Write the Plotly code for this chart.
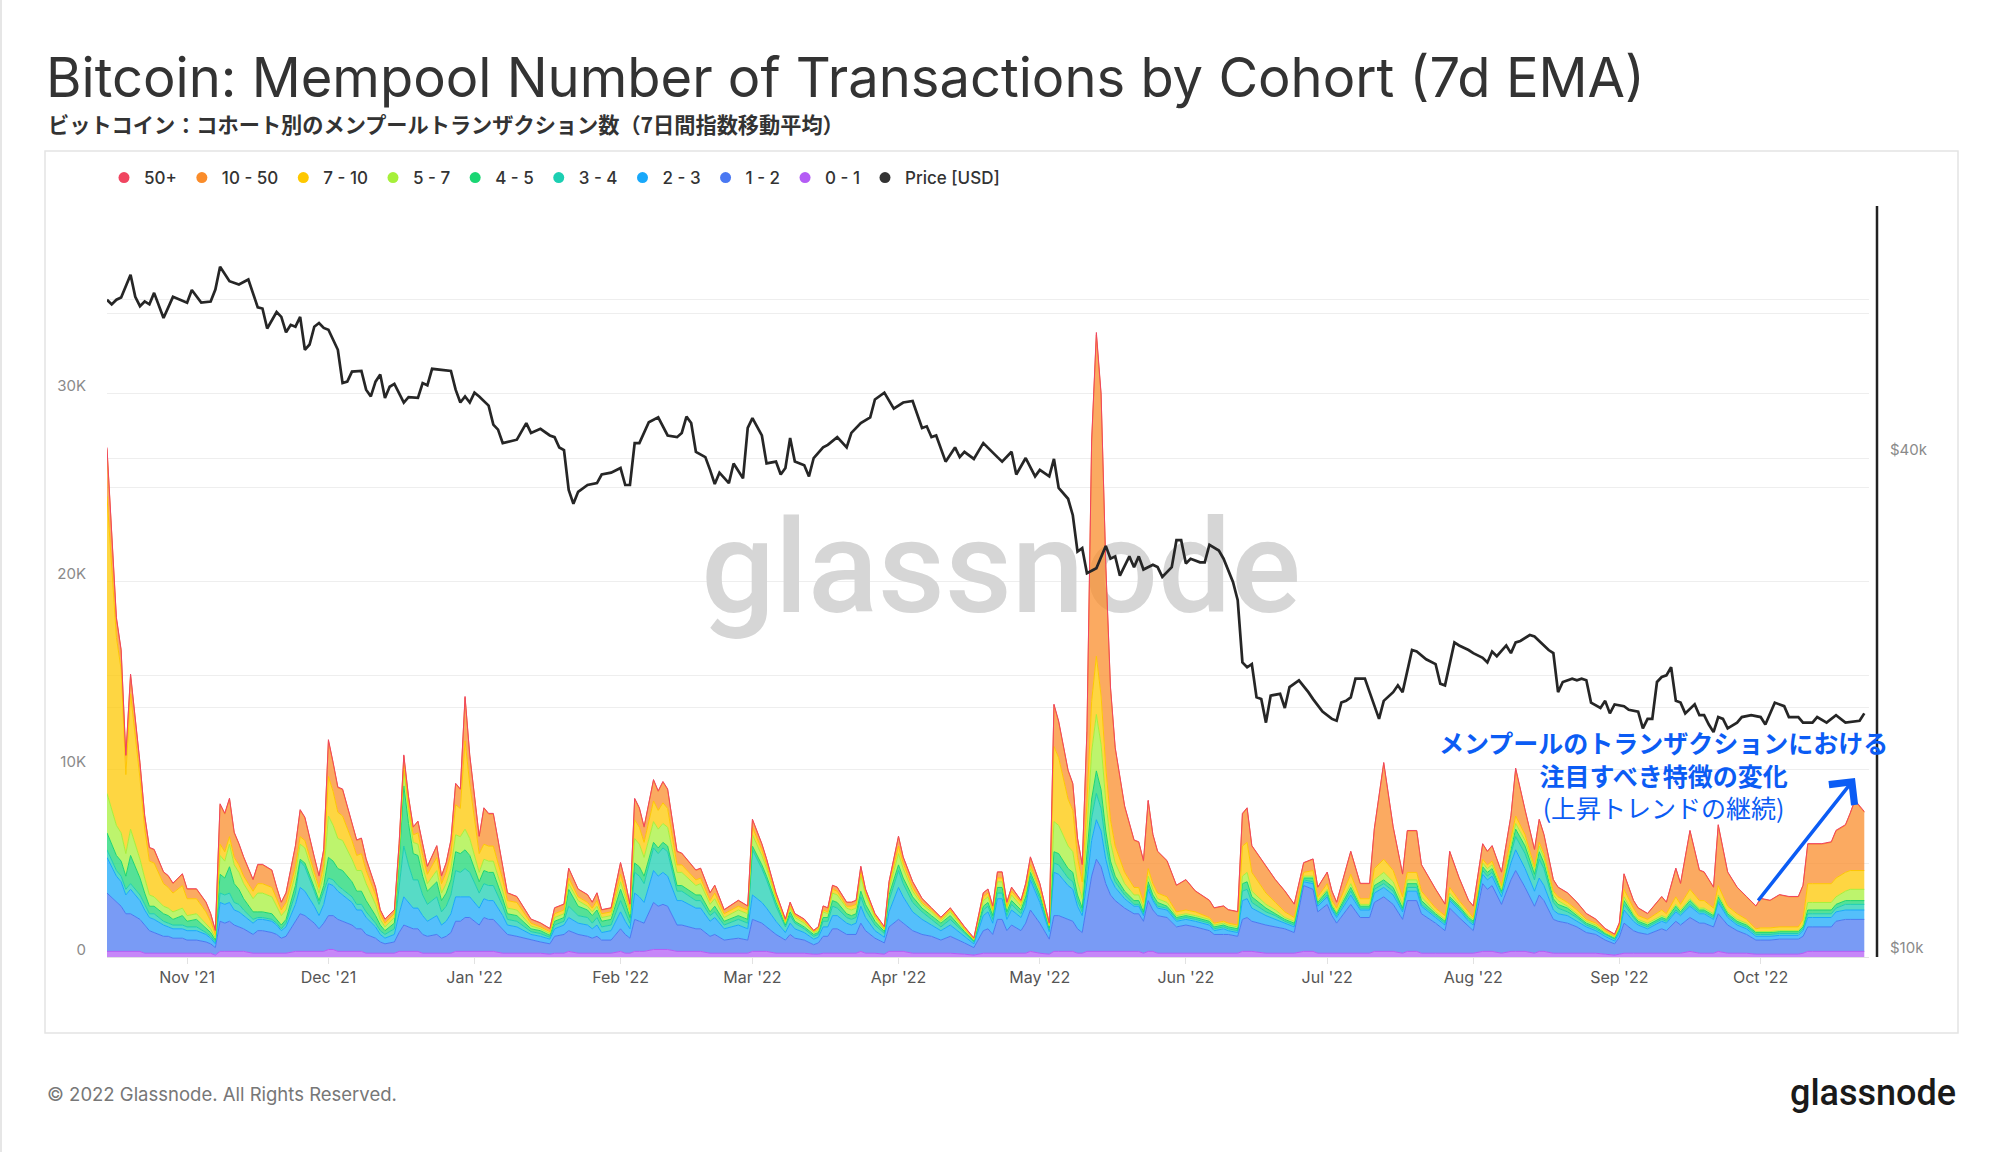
import pandas as pd
import plotly.graph_objects as go

# ---------------- canvas geometry ----------------
W, H = 2000, 1152
ML, MR, MT, MB = 107, 131, 205, 195
PW = W - ML - MR
PH = H - MT - MB


def px(x):
    return (x - ML) / PW


def py(y):
    return 1 - (y - MT) / PH


BASE = pd.Timestamp("2021-10-15")
X_END = pd.Timestamp("2022-10-24")

# ---------------- data (values in thousands) ----------------
days = [0, 2, 3, 4, 5, 7, 8, 9, 10, 12,
        13, 14, 16, 17, 19, 21, 22, 23, 24, 25,
        26, 27, 28, 29, 31, 32, 33, 35, 36, 37,
        38, 40, 41, 42, 44, 45, 46, 47, 48, 49,
        50, 52, 53, 54, 55, 57, 58, 59, 61, 62,
        63, 64, 65, 66, 67, 68, 70, 71, 72, 73,
        74, 75, 76, 77, 79, 80, 81, 82, 84, 85,
        87, 90, 92, 94, 95, 97, 98, 100, 102, 103,
        104, 105, 107, 109, 110, 111, 112, 113, 114, 116,
        117, 118, 119, 121, 122, 125, 126, 128, 129, 131,
        134, 136, 137, 139, 140, 142, 144, 145, 146, 148,
        150, 151, 152, 153, 154, 155, 157, 158, 159, 160,
        161, 163, 165, 166, 168, 169, 171, 173, 175, 177,
        179, 182, 184, 186, 187, 188, 189, 190, 191, 192,
        194, 195, 196, 198, 200, 201, 202, 204, 205, 206,
        207, 208, 209, 210, 211, 212, 213, 214, 216, 218,
        219, 220, 221, 222, 223, 225, 227, 229, 231, 234,
        235, 237, 238, 240, 241, 242, 243, 246, 248, 250,
        252, 254, 256, 257, 259, 260, 261, 264, 266, 268,
        269, 271, 273, 275, 276, 278, 279, 282, 284, 285,
        287, 289, 290, 292, 293, 294, 296, 298, 299, 301,
        303, 304, 305, 307, 308, 310, 312, 314, 316, 318,
        320, 321, 322, 324, 325, 327, 330, 331, 333, 334,
        336, 338, 339, 341, 342, 344, 346, 348, 350, 351,
        353, 355, 357, 359, 360, 361, 362, 364, 366, 367,
        369, 370, 371, 373]

c_0_1 = [.3, .3, .3, .3, .3, .3, .2, .2, .2, .2,
         .2, .2, .2, .2, .2, .2, .2, .1, .3, .3,
         .3, .3, .3, .3, .2, .2, .2, .2, .2, .2,
         .2, .3, .3, .3, .3, .3, .3, .4, .4, .3,
         .3, .3, .3, .3, .2, .2, .2, .2, .2, .3,
         .3, .3, .3, .3, .2, .2, .2, .2, .2, .2,
         .3, .3, .3, .3, .3, .3, .3, .3, .2, .2,
         .2, .2, .2, .15, .2, .2, .3, .2, .2, .2,
         .2, .2, .2, .3, .2, .2, .3, .3, .3, .4,
         .4, .4, .4, .3, .3, .3, .3, .2, .2, .2,
         .2, .2, .3, .3, .3, .2, .2, .2, .2, .2,
         .15, .15, .2, .2, .2, .2, .2, .2, .2, .3,
         .2, .2, .15, .3, .3, .3, .2, .2, .2, .2,
         .2, .15, .1, .2, .2, .2, .2, .2, .2, .2,
         .2, .2, .3, .2, .15, .3, .3, .3, .3, .2,
         .2, .3, .3, .3, .3, .3, .3, .3, .3, .3,
         .3, .2, .3, .3, .2, .2, .2, .2, .2, .2,
         .2, .2, .2, .2, .3, .3, .3, .2, .2, .2,
         .2, .3, .3, .2, .2, .2, .2, .2, .2, .2,
         .3, .3, .3, .2, .3, .3, .2, .2, .2, .2,
         .2, .2, .2, .3, .3, .3, .2, .3, .3, .3,
         .2, .3, .3, .2, .2, .2, .2, .2, .2, .15,
         .1, .15, .2, .2, .2, .2, .2, .2, .2, .2,
         .3, .2, .2, .2, .3, .2, .2, .2, .15, .15,
         .15, .15, .15, .15, .2, .3, .3, .3, .3, .3,
         .3, .3, .3, .3]

c_1_2 = [3.1, 2.6, 2.4, 2.0, 2.0, 1.7, 1.5, 1.2, 1.1, .9,
         .9, .8, .8, .7, .7, .6, .5, .4, 1.6, 1.5,
         1.6, 1.4, 1.3, 1.2, 1.0, 1.2, 1.2, 1.1, 1.0, .8,
         .9, 1.6, 2.0, 1.9, 1.5, 1.2, 1.5, 1.8, 1.8, 1.7,
         1.6, 1.4, 1.2, 1.2, 1.0, .8, .6, .5, .6, 1.0,
         1.4, 1.3, 1.2, 1.2, 1.0, .9, 1.0, .8, .9, 1.1,
         1.6, 1.6, 1.8, 1.8, 1.4, 1.8, 1.7, 1.7, 1.3, 1.0,
         .9, .7, .6, .55, .9, 1.0, 1.1, 1.0, .9, .8,
         .9, .7, .7, 1.2, 1.0, .8, 1.7, 1.6, 1.5, 2.5,
         2.3, 2.4, 2.3, 1.4, 1.4, 1.2, 1.2, .9, 1.0, .7,
         .8, .7, 1.7, 1.5, 1.3, 1.0, .7, 1.0, .8, .7,
         .5, .6, .9, .9, 1.3, 1.3, 1.0, 1.0, 1.0, 1.5,
         1.2, .8, .6, 1.3, 1.7, 1.5, 1.2, 1.0, .9, .7,
         .9, .6, .4, 1.2, 1.3, 1.0, 1.8, 1.8, 1.2, 1.5,
         1.2, 1.6, 2.2, 1.6, .8, 1.9, 1.9, 1.7, 1.6, 1.3,
         1.1, 2.5, 4.0, 4.9, 4.5, 3.6, 3.0, 2.7, 2.3, 2.0,
         2.0, 1.7, 2.7, 2.2, 2.0, 1.9, 1.4, 1.5, 1.4, 1.2,
         1.0, 1.0, 1.0, .9, 1.7, 1.8, 1.6, 1.5, 1.4, 1.3,
         1.1, 3.5, 3.3, 2.2, 2.6, 2.0, 1.6, 2.6, 1.9, 1.9,
         2.6, 2.9, 2.5, 1.8, 2.7, 2.7, 2.1, 1.6, 1.2, 2.4,
         1.9, 1.4, 1.2, 3.6, 3.3, 3.5, 2.6, 3.8, 4.3, 3.4,
         2.5, 3.0, 2.7, 1.8, 1.7, 1.6, 1.4, 1.1, 1.0, .75,
         .6, .9, 1.6, 1.2, 1.1, 1.0, 1.3, 1.2, 1.7, 1.5,
         1.8, 1.6, 1.6, 1.4, 2.0, 1.5, 1.2, 1.0, .75, .75,
         .75, .8, .8, .8, .9, 1.3, 1.3, 1.3, 1.3, 1.6,
         1.7, 1.7, 1.7, 1.7]

c_2_3 = [1.9, 1.4, 1.3, 1.0, 1.3, 1.0, .8, .7, .7, .6,
         .5, .5, .5, .5, .5, .4, .3, .2, 1.0, 1.0,
         1.0, .8, .8, .7, .6, .6, .6, .6, .5, .4,
         .5, .9, 1.4, 1.3, .9, .7, 1.0, 1.7, 1.6, 1.5,
         1.4, 1.2, 1.0, 1.0, .9, .6, .4, .3, .4, 1.0,
         1.5, 1.3, 1.1, 1.1, 1.0, .8, 1.0, .7, .8, 1.0,
         1.3, 1.3, 1.1, 1.1, .9, 1.0, 1.0, 1.0, .7, .5,
         .5, .3, .3, .25, .4, .5, .7, .6, .6, .5,
         .6, .4, .5, .9, .7, .5, 1.4, 1.3, 1.1, 1.7,
         1.6, 1.7, 1.6, 1.3, 1.3, 1.1, 1.1, .8, .9, .6,
         .7, .6, 1.3, 1.1, 1.0, .7, .4, .6, .5, .4,
         .3, .3, .5, .5, .7, .7, .6, .5, .6, .9,
         .7, .4, .3, .8, 1.7, 1.4, 1.0, .8, .6, .5,
         .6, .35, .2, .8, .9, .6, 1.1, 1.1, .6, .8,
         .7, .9, 1.6, 1.1, .4, 2.3, 2.2, 1.8, 1.7, 1.2,
         .9, 1.2, 1.9, 2.1, 1.9, 1.3, .9, .7, .5, .4,
         .4, .3, .6, .5, .4, .4, .3, .3, .3, .3,
         .2, .3, .2, .2, 1.0, 1.0, .7, .5, .4, .3,
         .3, .2, .3, .3, .4, .3, .3, .5, .4, .4,
         .5, .5, .5, .4, .5, .5, .4, .3, .3, .4,
         .4, .3, .3, .5, .5, .5, .4, .9, 1.1, 1.0,
         .8, .9, .8, .5, .4, .4, .3, .3, .2, .2,
         .15, .25, .7, .5, .4, .3, .4, .4, .5, .5,
         .6, .5, .5, .4, .6, .4, .3, .3, .2, .2,
         .2, .2, .2, .2, .3, .5, .5, .5, .5, .5,
         .5, .5, .5, .5]

c_3_4 = [.4, .3, .3, .3, .3, .3, .3, .2, .3, .2,
         .2, .2, .2, .2, .2, .1, .1, .1, .5, .5,
         .5, .4, .4, .3, .2, .1, .1, .1, .1, .1,
         .2, .6, 1.4, 1.3, .8, .6, .7, .3, .3, .3,
         .3, .3, .3, .3, .3, .2, .2, .2, .3, 1.4,
         2.7, 2.0, 1.5, 1.5, 1.1, .9, 1.0, .7, .8, 1.0,
         1.4, 1.3, 1.5, 1.3, .8, .8, .8, .8, .5, .3,
         .3, .15, .15, .1, .2, .2, .6, .4, .4, .3,
         .4, .3, .3, .6, .5, .3, 1.1, 1.1, 1.0, 1.2,
         1.2, 1.3, 1.3, .5, .5, .4, .4, .3, .3, .2,
         .3, .3, 2.4, 1.8, 1.5, .8, .3, .4, .3, .2,
         .15, .15, .3, .3, .5, .4, .3, .3, .3, .5,
         .4, .3, .2, .6, .9, .7, .5, .4, .3, .2,
         .3, .15, .1, .3, .3, .2, .3, .3, .2, .3,
         .2, .3, .2, .2, .1, .5, .5, .4, .4, .3,
         .2, .7, 1.2, 1.4, 1.2, .8, .5, .3, .2, .1,
         .1, .1, .2, .1, .1, .1, .1, .1, .1, .1,
         .1, .1, .1, .1, .5, .5, .3, .2, .2, .1,
         .1, .1, .1, .1, .1, .1, .1, .2, .1, .1,
         .2, .2, .2, .1, .2, .2, .1, .1, .1, .1,
         .1, .1, .1, .2, .2, .2, .2, .5, .7, .8,
         .6, 1.0, .9, .4, .3, .2, .2, .1, .1, .1,
         .1, .1, .3, .2, .1, .1, .1, .1, .1, .1,
         .1, .1, .1, .1, .1, .1, .1, .1, .1, .1,
         .1, .1, .1, .1, .1, .2, .2, .2, .2, .2,
         .3, .3, .3, .3]

c_4_5 = [.9, .8, .8, .7, 1.5, .9, .6, .4, .4, .4,
         .4, .3, .5, .3, .4, .2, .2, .1, 1.0, .9,
         1.4, 1.0, .8, .6, .4, .3, .3, .3, .2, .2,
         .2, .4, .1, .2, .2, .2, .3, 1.1, 1.0, .9,
         1.0, .8, .7, .7, .6, .4, .3, .2, .3, 1.3,
         3.2, 2.2, 1.4, 1.3, 1.0, .7, .8, .6, .7, .8,
         1.0, 1.0, 1.0, .9, .6, .7, .7, .7, .4, .3,
         .3, .15, .15, .1, .2, .2, .9, .5, .4, .4,
         .4, .3, .3, .6, .5, .3, .5, .5, .4, .3,
         .3, .3, .3, .3, .3, .3, .3, .2, .3, .2,
         .2, .2, .2, .2, .2, .2, .1, .2, .1, .1,
         .1, .1, .2, .2, .3, .3, .2, .2, .2, .3,
         .3, .2, .1, .3, .3, .3, .3, .2, .2, .2,
         .2, .1, .05, .2, .2, .2, .3, .3, .2, .2,
         .2, .2, .2, .2, .1, .6, .6, .5, .5, .3,
         .2, .7, 1.0, 1.2, 1.0, .7, .4, .3, .2, .2,
         .2, .1, .2, .2, .2, .1, .1, .1, .1, .1,
         .1, .1, .1, .1, .4, .4, .3, .2, .1, .1,
         .1, .1, .2, .1, .2, .1, .1, .2, .1, .1,
         .2, .2, .2, .1, .2, .2, .2, .1, .1, .1,
         .1, .1, .1, .2, .2, .2, .1, .3, .4, .4,
         .3, .4, .3, .2, .2, .2, .1, .1, .1, .05,
         .05, .1, .2, .1, .1, .1, .1, .1, .2, .1,
         .2, .1, .1, .1, .2, .1, .1, .1, .1, .1,
         .1, .1, .1, .1, .1, .2, .2, .2, .2, .2,
         .2, .2, .2, .2]

c_5_7 = [2.1, 1.6, 1.5, 1.2, 1.4, 1.0, .8, .6, .5, .4,
         .4, .4, .4, .3, .3, .3, .2, .1, 1.0, .9,
         1.2, 1.0, .9, .8, .7, 1.0, 1.0, .9, .7, .5,
         .5, .6, .8, .8, .5, .4, .6, 2.2, 1.9, 1.6,
         1.6, 1.2, 1.1, 1.1, .9, .6, .3, .2, .3, .4,
         .9, .7, .6, .6, .5, .4, .6, .4, .5, .6,
         .9, .9, 1.1, .9, .5, .6, .6, .6, .4, .3,
         .3, .15, .1, .1, .2, .2, .3, .3, .2, .2,
         .2, .2, .2, .4, .3, .2, 1.3, 1.2, 1.0, 1.1,
         1.0, 1.0, 1.0, .7, .7, .5, .6, .4, .4, .2,
         .3, .3, .6, .5, .4, .2, .1, .2, .2, .2,
         .1, .1, .3, .2, .4, .4, .3, .3, .3, .8,
         .5, .2, .1, .3, .6, .5, .3, .2, .2, .1,
         .2, .1, .05, .3, .3, .2, .3, .3, .2, .3,
         .2, .2, .2, .2, .1, 1.6, 1.5, 1.2, 1.1, .7,
         .5, 1.3, 2.5, 3.0, 2.4, 1.6, 1.0, .7, .4, .3,
         .3, .2, .3, .3, .2, .2, .1, .1, .1, .1,
         .1, .1, .1, .1, .4, .5, .3, .2, .2, .1,
         .1, .1, .1, .1, .1, .1, .1, .2, .1, .1,
         .3, .4, .3, .2, .2, .2, .2, .1, .1, .2,
         .1, .1, .1, .2, .2, .2, .1, .2, .3, .3,
         .2, .3, .3, .2, .2, .1, .1, .1, .1, .05,
         .05, .05, .2, .1, .1, .1, .1, .1, .1, .1,
         .1, .1, .1, .1, .1, .1, .1, .1, .05, .05,
         .05, .05, .05, .05, .1, .4, .4, .4, .4, .4,
         .5, .6, .6, .6]

c_7_10 = [15.8, 10.0, 8.7, 4.2, 7.2, 4.3, 2.6, 1.8, 1.8, 1.2,
          1.1, 1.0, 1.2, .9, .8, .6, .4, .2, .6, .5,
          .4, .4, .4, .4, .4, .5, .5, .5, .4, .3,
          .4, .4, .4, .4, .3, .3, .5, 2.1, 1.8, 1.4,
          1.3, 1.0, .8, .9, .7, .5, .3, .2, .2, .3,
          .2, .3, .4, .6, .6, .5, .7, .5, .6, .8,
          1.6, 1.5, 4.7, 2.9, 1.0, .8, .8, .8, .6, .4,
          .4, .15, .1, .1, .2, .2, .3, .2, .2, .2,
          .3, .2, .2, .4, .3, .2, 1.0, .9, .8, 1.1,
          1.0, 1.1, 1.0, .4, .4, .3, .3, .2, .3, .2,
          .2, .2, .4, .3, .2, .1, .1, .1, .1, .1,
          .05, .1, .1, .1, .2, .2, .1, .2, .2, .2,
          .1, .1, .05, .2, .4, .3, .2, .1, .1, .1,
          .1, .05, .05, .2, .2, .1, .2, .2, .1, .2,
          .2, .2, .2, .1, .05, 4.0, 3.6, 2.5, 2.2, 1.3,
          .9, 1.5, 2.7, 3.1, 2.6, 1.8, 1.2, .9, .6, .4,
          .4, .3, .4, .3, .3, .3, .2, .2, .2, .1,
          .1, .1, .1, .1, 1.6, 1.6, 1.0, .6, .4, .3,
          .2, .2, .3, .2, .3, .2, .2, .5, .3, .3,
          .6, .7, .6, .4, .4, .4, .3, .2, .2, .3,
          .2, .2, .1, .2, .2, .2, .2, .3, .4, .3,
          .2, .2, .2, .2, .2, .2, .2, .1, .1, .1,
          .05, .1, .4, .3, .2, .2, .3, .2, .4, .3,
          .5, .4, .4, .3, .5, .3, .3, .2, .15, .2,
          .2, .2, .2, .2, .3, 1.0, 1.0, 1.0, 1.0, 1.0,
          1.0, 1.0, 1.0, 1.0]

c_10_50 = [2.5, 1.0, 1.0, 1.0, 1.0, .8, .7, .7, .7, .6,
           .6, .5, .6, .5, .5, .5, .4, .2, 2.1, 2.0,
           2.0, 1.3, 1.1, 1.0, .6, 1.0, 1.0, .9, .6, .4,
           .5, 1.1, 1.4, 1.2, .8, .6, .8, 1.9, 1.5, 1.3,
           1.4, .9, .8, .8, .6, .4, .2, .2, .2, .3,
           .5, .4, .4, .6, .5, .4, .6, .4, .5, .7,
           1.1, 1.0, 2.3, 1.5, .9, 1.9, 1.7, 1.7, .7, .4,
           .3, .2, .2, .15, .3, .3, .5, .4, .4, .3,
           .4, .2, .2, .6, .5, .3, 1.1, 1.0, .8, 1.1,
           1.0, 1.1, 1.0, .7, .6, .5, .5, .4, .4, .2,
           .3, .2, .4, .3, .3, .2, .1, .2, .1, .1,
           .05, .1, .2, .2, .2, .2, .2, .2, .2, .3,
           .2, .1, .1, .2, .5, .3, .3, .2, .1, .1,
           .1, .1, .05, .2, .2, .2, .3, .3, .2, .2,
           .1, .3, .4, .3, .1, 2.2, 1.9, 1.5, 1.4, 1.0,
           .9, 3.8, 13.8, 17.1, 16.0, 10.7, 7.0, 5.2, 3.5, 2.5,
           2.4, 2.2, 3.6, 2.6, 2.2, 1.9, 1.4, 1.6, 1.1, .9,
           .8, .8, .7, .7, 1.7, 1.8, 1.4, 1.4, 1.2, 1.1,
           .7, .5, .6, .5, .6, .5, .3, 1.2, .8, .8,
           2.1, 5.1, 2.3, 1.2, 2.2, 2.2, 1.4, 1.0, .6, 1.9,
           1.2, .6, .6, .8, .7, .8, .7, 1.2, 2.5, 1.3,
           .9, 1.2, 1.0, .6, .5, .5, .4, .3, .2, .1,
           .1, .15, .8, .4, .4, .3, .7, .6, 1.5, 1.1,
           3.1, 1.6, 1.5, 1.1, 3.2, 1.8, 1.4, 1.2, 1.2, 1.55,
           1.45, 1.7, 1.6, 1.6, 1.8, 2.1, 2.1, 2.1, 2.2, 2.5,
           2.5, 3.0, 3.7, 3.1]

c_50p = [.1, .06, .05, .04, .05, .04, .03, .03, .03, .03,
         .03, .03, .03, .03, .03, .03, .02, .02, .05, .05,
         .05, .04, .04, .03, .03, .03, .03, .03, .03, .02,
         .02, .03, .04, .04, .03, .03, .03, .06, .05, .04,
         .04, .03, .03, .03, .03, .02, .02, .02, .02, .03,
         .05, .04, .03, .03, .03, .03, .03, .02, .03, .03,
         .04, .04, .06, .05, .03, .04, .04, .04, .03, .02,
         .02, .02, .02, .02, .02, .02, .03, .02, .02, .02,
         .02, .02, .02, .03, .02, .02, .04, .04, .03, .04,
         .04, .04, .04, .03, .03, .03, .03, .02, .02, .02,
         .02, .02, .03, .03, .03, .02, .02, .02, .02, .02,
         .02, .02, .02, .02, .02, .02, .02, .02, .02, .03,
         .02, .02, .02, .02, .03, .03, .02, .02, .02, .02,
         .02, .02, .02, .02, .02, .02, .03, .03, .02, .02,
         .02, .02, .03, .02, .02, .05, .05, .04, .04, .03,
         .03, .06, .1, .12, .1, .08, .06, .05, .04, .03,
         .03, .03, .04, .03, .03, .03, .02, .02, .02, .02,
         .02, .02, .02, .02, .04, .04, .03, .03, .02, .02,
         .02, .02, .02, .02, .02, .02, .02, .03, .02, .02,
         .03, .05, .03, .02, .03, .03, .02, .02, .02, .03,
         .02, .02, .02, .03, .03, .03, .02, .03, .05, .03,
         .03, .03, .03, .02, .02, .02, .02, .02, .02, .02,
         .02, .02, .03, .02, .02, .02, .02, .02, .03, .02,
         .04, .03, .03, .02, .04, .03, .02, .02, .02, .02,
         .02, .02, .02, .02, .02, .03, .03, .03, .03, .04,
         .04, .04, .05, .04]

price_days = [0, 1, 2, 3, 5, 6, 7, 8, 9, 10,
              12, 14, 17, 18, 20, 22, 23, 24, 26, 28,
              30, 32, 33, 34, 36, 37, 38, 39, 40, 41,
              42, 43, 44, 45, 46, 47, 49, 50, 51, 52,
              54, 55, 56, 57, 58, 59, 60, 61, 63, 64,
              66, 67, 68, 69, 73, 74, 75, 76, 77, 78,
              79, 81, 82, 83, 84, 87, 89, 90, 92, 94,
              95, 96, 97, 98, 99, 100, 102, 104, 105, 106,
              107, 109, 110, 111, 112, 113, 115, 117, 119, 121,
              122, 123, 124, 125, 127, 128, 129, 130, 132, 133,
              135, 136, 137, 139, 140, 142, 143, 144, 145, 146,
              148, 149, 150, 152, 153, 155, 157, 158, 160, 162,
              163, 165, 167, 169, 171, 173, 174, 175, 176, 178,
              180, 181, 182, 184, 186, 189, 190, 192, 193, 195,
              197, 198, 200, 201, 202, 204, 205, 206, 207, 208,
              210, 212, 213, 214, 215, 217, 218, 219, 220, 222,
              223, 224, 226, 227, 228, 229, 230, 232, 233, 234,
              236, 237, 239, 240, 241, 242, 243, 244, 245, 246,
              247, 249, 250, 251, 253, 255, 256, 258, 260, 261,
              262, 263, 264, 265, 267, 268, 270, 271, 273, 274,
              275, 277, 278, 280, 282, 283, 284, 286, 287, 289,
              290, 292, 293, 294, 295, 297, 298, 299, 300, 302,
              303, 304, 306, 307, 308, 309, 311, 312, 313, 314,
              315, 317, 318, 319, 320, 322, 323, 325, 326, 327,
              328, 329, 330, 331, 332, 333, 334, 335, 337, 338,
              339, 340, 341, 342, 343, 344, 346, 347, 349, 351,
              352, 354, 356, 357, 359, 360, 362, 363, 365, 367,
              369, 372, 373]

price_k = [62.3, 61.5, 62.3, 62.7, 66.8, 62.8, 61.2, 62.0, 61.5, 63.5,
           59.2, 62.8, 61.8, 64.0, 61.8, 62.0, 64.1, 68.3, 65.6, 65.0,
           65.9, 61.0, 60.8, 57.5, 60.2, 59.4, 56.9, 58.1, 57.8, 59.4,
           54.2, 55.0, 57.8, 58.4, 57.6, 57.3, 54.2, 49.4, 49.6, 51.0,
           51.1, 48.5, 47.6, 49.6, 50.6, 47.4, 48.9, 49.3, 46.8, 47.5,
           47.4, 49.4, 49.1, 51.4, 51.1, 48.5, 46.8, 47.6, 46.8, 48.1,
           47.6, 46.4, 44.0, 43.4, 41.8, 42.2, 44.2, 43.0, 43.5, 42.7,
           42.5, 41.3, 41.0, 36.7, 35.3, 36.5, 37.2, 37.4, 38.3, 38.4,
           38.5, 39.0, 37.2, 37.2, 41.8, 41.8, 44.3, 44.9, 42.7, 42.5,
           43.0, 45.0, 44.2, 40.8, 40.2, 38.8, 37.3, 38.5, 37.4, 39.5,
           37.9, 43.6, 44.8, 42.7, 39.5, 39.7, 38.3, 39.0, 42.4, 39.7,
           39.3, 38.1, 40.1, 41.3, 41.6, 42.5, 41.3, 43.0, 44.2, 44.9,
           47.2, 48.1, 46.0, 46.8, 47.0, 43.6, 43.8, 42.5, 42.7, 39.7,
           41.3, 40.2, 40.8, 40.0, 41.8, 40.2, 39.7, 40.8, 38.3, 40.1,
           38.1, 38.8, 38.1, 40.0, 36.9, 35.8, 34.2, 30.9, 31.2, 29.1,
           29.5, 31.4, 30.3, 30.5, 28.9, 30.5, 29.6, 30.5, 29.4, 29.8,
           29.6, 28.8, 29.6, 31.9, 31.9, 29.9, 30.3, 30.0, 30.0, 31.5,
           31.0, 30.3, 28.4, 27.0, 22.7, 22.4, 22.6, 20.6, 20.5, 19.2,
           20.7, 20.8, 20.0, 21.2, 21.6, 20.9, 20.5, 19.8, 19.4, 19.3,
           20.3, 20.4, 20.6, 21.7, 21.7, 20.9, 19.4, 20.4, 20.9, 21.3,
           20.9, 23.5, 23.4, 22.9, 22.6, 21.4, 21.3, 24.0, 23.8, 23.5,
           23.3, 23.0, 22.7, 23.4, 23.1, 23.8, 23.3, 24.0, 24.1, 24.5,
           24.4, 24.1, 23.5, 23.3, 20.9, 21.5, 21.7, 21.6, 21.7, 21.6,
           20.3, 20.0, 20.4, 19.7, 20.2, 20.1, 19.9, 19.8, 18.9, 19.4,
           19.4, 21.5, 21.8, 21.9, 22.4, 20.4, 20.3, 19.7, 20.2, 19.6,
           19.6, 19.1, 18.7, 19.5, 19.4, 18.9, 19.2, 19.5, 19.6, 19.5,
           19.1, 20.3, 20.1, 19.5, 19.5, 19.2, 19.2, 19.5, 19.2, 19.6,
           19.2, 19.3, 19.7]

# cohorts: bottom of the stack first
cohort_names = ["0 - 1", "1 - 2", "2 - 3", "3 - 4", "4 - 5", "5 - 7", "7 - 10", "10 - 50", "50+"]
cohort_values = [c_0_1, c_1_2, c_2_3, c_3_4, c_4_5, c_5_7, c_7_10, c_10_50, c_50p]
cohort_colors = ["#b45cf5", "#4a78f2", "#18a8fa", "#1ccfb2", "#1ad673",
                 "#a6f03a", "#fec800", "#fa8c2a", "#f04560"]

for arr in cohort_values:
    assert len(arr) == len(days), (len(arr), len(days))
assert len(price_days) == len(price_k)

dates = [BASE + pd.Timedelta(days=d) for d in days]
price_dates = [BASE + pd.Timedelta(days=d) for d in price_days]


def rgba(hex_color, a):
    h = hex_color.lstrip("#")
    r, g, b = int(h[0:2], 16), int(h[2:4], 16), int(h[4:6], 16)
    return f"rgba({r},{g},{b},{a})"


FONT = "Inter"
fig = go.Figure()

# watermark (drawn first so it sits beneath the areas)
span = X_END - BASE
wm_x = BASE + span * px(1001)
wm_y = py(579) * 40000
fig.add_trace(go.Scatter(
    x=[wm_x], y=[wm_y], mode="text", text=["glassnode"],
    textfont=dict(family="Roboto", size=130, color="#d6d6d6", weight=500),
    hoverinfo="skip", showlegend=False))

for name, vals, col in zip(cohort_names, cohort_values, cohort_colors):
    fig.add_trace(go.Scatter(
        x=dates, y=[v * 1000 for v in vals], name=name,
        mode="lines", stackgroup="one",
        line=dict(color=col, width=1),
        fillcolor=rgba(col, 0.74),
        hoverinfo="skip", showlegend=False))

fig.add_trace(go.Scatter(
    x=price_dates, y=[v * 1000 for v in price_k], name="Price [USD]",
    yaxis="y2", mode="lines", line=dict(color="#262626", width=2.7),
    hoverinfo="skip", showlegend=False))

# legend entries (dots), in the reference order
for name, col in list(zip(cohort_names, cohort_colors))[::-1] + [("Price [USD]", "#333333")]:
    fig.add_trace(go.Scatter(
        x=[None], y=[None], mode="markers", name=name,
        marker=dict(color=col, size=11, symbol="circle"),
        showlegend=True))

BLUE = "#0b5cf4"

fig.update_layout(
    width=W, height=H, autosize=False,
    margin=dict(l=ML, r=MR, t=MT, b=MB, pad=0),
    paper_bgcolor="white", plot_bgcolor="white",
    font=dict(family=FONT, color="#333"),
    showlegend=True,
    legend=dict(orientation="h", x=px(104), y=py(178), xanchor="left", yanchor="middle",
                font=dict(family=FONT, size=17, color="#333", weight=500),
                bgcolor="rgba(0,0,0,0)", itemclick=False, itemdoubleclick=False,
                traceorder="normal"),
    xaxis=dict(type="date", range=[BASE, X_END], tickformat="%b '%y",
               dtick="M1", tick0="2021-11-01", showgrid=False,
               showline=True, linecolor="#e2e2e2", linewidth=1,
               ticks="outside", ticklen=6, tickcolor="#e2e2e2",
               tickfont=dict(family=FONT, size=16, color="#555"),
               zeroline=False),
    yaxis=dict(range=[0, 40000], tickvals=[0, 10000, 20000, 30000, 40000],
               ticktext=["0", "10K", "20K", "30K", ""],
               showgrid=True, gridcolor="#eeeeee", gridwidth=1,
               minor=dict(dtick=5000, showgrid=True, gridcolor="#eeeeee", gridwidth=1),
               zeroline=False, showline=False, ticks="",
               tickfont=dict(family=FONT, size=15, color="#8a8a8a"),
               ticklabelstandoff=20, ticklabelshift=-7),
    yaxis2=dict(type="log", overlaying="y", side="right", range=[4, 4.909],
                tickvals=[10000, 20000, 40000, 60000],
                ticktext=["$10k", "", "$40k", ""],
                showgrid=True, gridcolor="#eeeeee", gridwidth=1,
                zeroline=False, showline=False, ticks="",
                tickfont=dict(family=FONT, size=15, color="#8a8a8a"),
                ticklabelstandoff=20, ticklabelshift=-9),
    shapes=[
        dict(type="rect", xref="paper", yref="paper",
             x0=px(45), x1=px(1958), y0=py(1033), y1=py(151),
             line=dict(color="#e4e4e4", width=1.5), layer="below"),
        dict(type="line", xref="paper", yref="paper",
             x0=px(1), x1=px(1), y0=py(0), y1=py(H),
             line=dict(color="#e6e6e6", width=2)),
        dict(type="line", xref="paper", yref="paper",
             x0=px(1877), x1=px(1877), y0=py(206), y1=py(957),
             line=dict(color="#222222", width=2.5)),
    ],
    annotations=[
        dict(xref="paper", yref="paper", x=px(44), y=py(77), xanchor="left", yanchor="middle",
             text="Bitcoin: Mempool Number of Transactions by Cohort (7d EMA)",
             showarrow=False, font=dict(family=FONT, size=54.3, color="#333")),
        dict(xref="paper", yref="paper", x=px(46), y=py(123), xanchor="left", yanchor="middle",
             text="<b>ビットコイン：コホート別のメンプールトランザクション数（7日間指数移動平均）</b>",
             showarrow=False, font=dict(family="Noto Sans CJK JP", size=21.2, color="#333")),
        dict(xref="paper", yref="paper", x=px(45), y=py(1094), xanchor="left", yanchor="middle",
             text="© 2022 Glassnode. All Rights Reserved.",
             showarrow=False, font=dict(family=FONT, size=18.5, color="#777")),
        dict(xref="paper", yref="paper", x=px(1958), y=py(1093), xanchor="right", yanchor="middle",
             text="glassnode", showarrow=False,
             font=dict(family="Roboto", size=36, color="#1a1a1a", weight=500)),
        dict(xref="paper", yref="paper", x=px(1663), y=py(774), xanchor="center", yanchor="middle",
             text="<b>メンプールのトランザクションにおける<br>注目すべき特徴の変化</b><br>(上昇トレンドの継続)",
             align="center", showarrow=False,
             font=dict(family="Noto Sans CJK JP", size=25, color=BLUE)),
        dict(xref="paper", yref="paper", x=px(1855), y=py(778), text="",
             showarrow=True, ax=-98, ay=124, arrowhead=4, arrowsize=1.8,
             arrowwidth=3.5, arrowcolor=BLUE),
    ],
)

fig.write_html("out.html", config={"displayModeBar": False},
               post_script="document.body.style.margin='0';")
